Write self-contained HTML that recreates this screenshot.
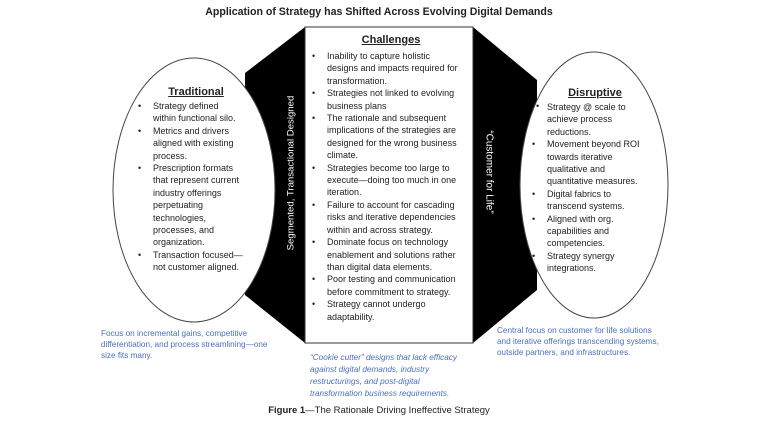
<!DOCTYPE html>
<html><head><meta charset="utf-8"><style>
body{margin:0;width:758px;height:428px;background:#fff;position:relative;overflow:hidden;font-family:"Liberation Sans",sans-serif;color:#222}
.a{position:absolute}
ul{margin:0;padding:0 0 0 17px;list-style:none}
li{position:relative;font-size:9px;line-height:12.4px;white-space:nowrap}
li .b{position:absolute;left:-15px;top:0}
h3{margin:0;font-size:11px;text-decoration:underline;text-align:center;font-weight:bold;line-height:14px}
.blue{color:#4a6fc0;font-size:8.2px;line-height:11px;white-space:nowrap}
</style></head><body>
<svg class="a" style="left:0;top:0" width="758" height="428">
<polygon points="305,27 245,73 245,295 305,343" fill="#000"/>
<polygon points="473,27 537,80 537,290 473,343" fill="#000"/>
<rect x="305" y="27" width="168" height="316" fill="#fff" stroke="#333" stroke-width="1"/>
<ellipse cx="194" cy="190" rx="81" ry="132" fill="#fff" stroke="#444" stroke-width="1"/>
<ellipse cx="594" cy="185" rx="74" ry="133" fill="#fff" stroke="#444" stroke-width="1"/>
<text x="291" y="173" fill="#fff" font-size="9.6" font-family="Liberation Sans" text-anchor="middle" transform="rotate(-90 291 173)" dominant-baseline="middle">Segmented, Transactional Designed</text>
<text x="489" y="172" fill="#fff" font-size="10" font-family="Liberation Sans" text-anchor="middle" transform="rotate(90 489 172)" dominant-baseline="middle">“Customer for Life”</text>
<text x="536" y="109" fill="#222" font-size="9" font-family="Liberation Sans">•</text>
</svg>
<div class="a" style="left:0;width:758px;top:6px;text-align:center;font-weight:bold;font-size:10.6px">Application of Strategy has Shifted Across Evolving Digital Demands</div>
<div class="a" style="left:136px;top:85px;width:140px">
<h3 style="width:120px">Traditional</h3>
<ul style="margin-top:1px"><li><span class="b">•</span>Strategy defined<br>within functional silo.</li><li><span class="b">•</span>Metrics and drivers<br>aligned with existing<br>process.</li><li><span class="b">•</span>Prescription formats<br>that represent current<br>industry offerings<br>perpetuating<br>technologies,<br>processes, and<br>organization.</li><li><span class="b">•</span>Transaction focused—<br>not customer aligned.</li></ul></div>
<div class="a" style="left:310px;top:33px;width:162px">
<h3>Challenges</h3>
<ul style="margin-top:3px"><li><span class="b">•</span>Inability to capture holistic<br>designs and impacts required for<br>transformation.</li><li><span class="b">•</span>Strategies not linked to evolving<br>business plans</li><li><span class="b">•</span>The rationale and subsequent<br>implications of the strategies are<br>designed for the wrong business<br>climate.</li><li><span class="b">•</span>Strategies become too large to<br>execute—doing too much in one<br>iteration.</li><li><span class="b">•</span>Failure to account for cascading<br>risks and iterative dependencies<br>within and across strategy.</li><li><span class="b">•</span>Dominate focus on technology<br>enablement and solutions rather<br>than digital data elements.</li><li><span class="b">•</span>Poor testing and communication<br>before commitment to strategy.</li><li><span class="b">•</span>Strategy cannot undergo<br>adaptability.</li></ul></div>
<div class="a" style="left:530px;top:86px;width:140px">
<h3 style="width:110px;margin-left:10px">Disruptive</h3>
<ul style="margin-top:1px"><li>Strategy @ scale to<br>achieve process<br>reductions.</li><li><span class="b">•</span>Movement beyond ROI<br>towards iterative<br>qualitative and<br>quantitative measures.</li><li><span class="b">•</span>Digital fabrics to<br>transcend systems.</li><li><span class="b">•</span>Aligned with org.<br>capabilities and<br>competencies.</li><li><span class="b">•</span>Strategy synergy<br>integrations.</li></ul></div>
<div class="a blue" style="left:101px;top:328px">Focus on incremental gains, competitive<br>differentiation, and process streamlining—one<br>size fits many.</div>
<div class="a blue" style="left:310px;top:352px;font-style:italic;line-height:12px">“Cookie cutter” designs that lack efficacy<br>against digital demands, industry<br>restructurings, and post-digital<br>transformation business requirements.</div>
<div class="a blue" style="left:497px;top:325px">Central focus on customer for life solutions<br>and iterative offerings transcending systems,<br>outside partners, and infrastructures.</div>
<div class="a" style="left:0;width:758px;top:405px;text-align:center;font-size:9.5px"><b>Figure 1</b>—The Rationale Driving Ineffective Strategy</div>
</body></html>
